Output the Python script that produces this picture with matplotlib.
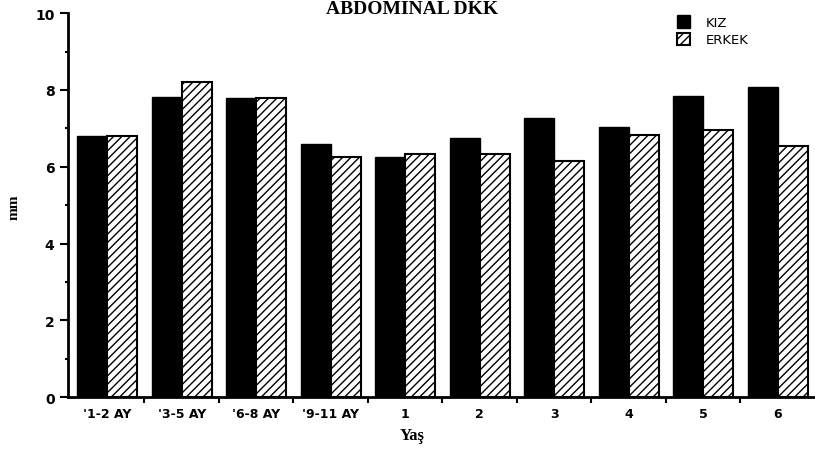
import matplotlib
matplotlib.use("Agg")
from matplotlib import pyplot as plt
import numpy as np

groups = ["'1-2 AY", "'3-5 AY", "'6-8 AY", "'9-11 AY", "1", "2", "3", "4", "5", "6"]
kiz = [6.8, 7.82, 7.8, 6.6, 6.25, 6.75, 7.27, 7.03, 7.85, 8.07]
erkek = [6.8, 8.2, 7.8, 6.25, 6.32, 6.33, 6.15, 6.83, 6.95, 6.55]

plt.rcParams['hatch.linewidth'] = 1.0

fig = plt.figure(figsize=(8.15, 4.56), dpi=100)
ax = fig.add_axes([0.084, 0.127, 0.916, 0.842])

x = np.arange(len(groups))
w = 0.4
ax.bar(x - w / 2, kiz, w, color="black", edgecolor="black", label="KIZ")
ax.bar(x + w / 2, erkek, w, color="white", edgecolor="black", linewidth=1.5,
       hatch="////", label="ERKEK")

ax.set_xlim(-0.52, len(groups) - 0.5)
ax.set_ylim(0, 10)
ax.set_yticks([0, 2, 4, 6, 8, 10])
ax.set_yticks([1, 3, 5, 7, 9], minor=True)
ax.set_xticks(x)
ax.set_xticklabels(groups, fontsize=9, fontweight="bold")
ax.set_xticks(np.arange(0.5, len(groups) - 0.5, 1), minor=True)
ax.tick_params(axis="x", which="major", length=0, pad=7)
ax.tick_params(axis="x", which="minor", length=4, width=1.5, direction="out")
ax.tick_params(axis="y", which="major", length=6, width=1.5, labelsize=10, pad=4)
ax.tick_params(axis="y", which="minor", length=2, width=1.5)
for lab in ax.get_yticklabels():
    lab.set_fontweight("bold")

for s in ["top", "right"]:
    ax.spines[s].set_visible(False)
ax.spines["left"].set_linewidth(2)
ax.spines["bottom"].set_linewidth(2)

fig.text(412 / 815, 1 - 10 / 456, "ABDOMINAL DKK", fontsize=14, fontweight="bold",
         family="Liberation Serif", ha="center", va="center")
fig.text(14 / 815, 1 - 207 / 456, "mm", fontsize=11, fontweight="bold",
         family="Liberation Serif", rotation=90, ha="center", va="center")
fig.text(412 / 815, 1 - 436 / 456, "Yaş", fontsize=12, fontweight="bold",
         family="Liberation Serif", ha="center", va="center")

ax.legend(loc="upper left", bbox_to_anchor=(0.799, 1.025), frameon=False,
          fontsize=9.5, handlelength=1.0, handleheight=1.1, handletextpad=1.2,
          labelspacing=0.25)

plt.savefig("out.png", dpi=100)
